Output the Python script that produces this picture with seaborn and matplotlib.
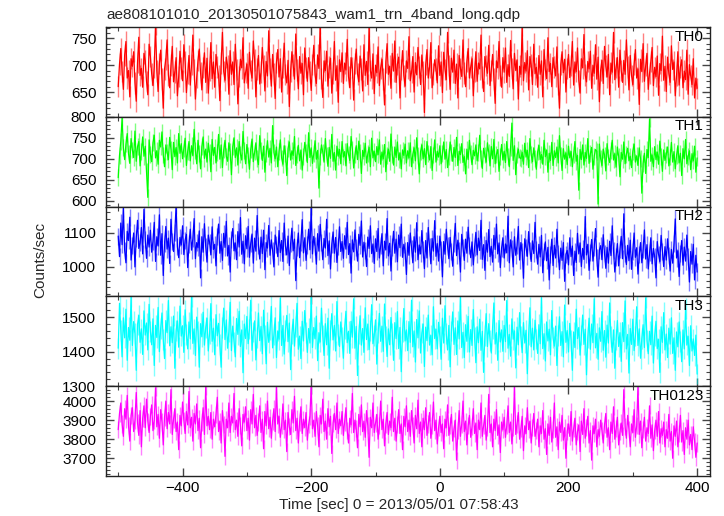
import numpy as np
import pandas as pd
import matplotlib
matplotlib.use("Agg")
import matplotlib.pyplot as plt
import seaborn as sns
from matplotlib.ticker import MultipleLocator, FixedLocator, FuncFormatter

# ---------------- data (2-s bins) ----------------
time = np.arange(-500, 401, 2)

th0 = [660, 702, 731, 688, 655, 719, 744, 676, 690, 641, 712, 698, 725, 667, 633, 705, 752, 681, 694, 659, 722, 708, 670, 645, 739,
       716, 684, 662, 697, 776, 689, 651, 703, 728, 674, 620, 693, 711, 747, 682, 658, 700, 735, 669, 687, 714, 643, 679, 726, 695,
       671, 738, 706, 649, 685, 718, 663, 701, 756, 692, 637, 677, 709, 730, 686, 654, 696, 723, 668, 713, 648, 690, 742, 675, 706,
       659, 720, 697, 681, 634, 704, 761, 688, 672, 715, 699, 646, 727, 683, 706, 664, 739, 692, 628, 679, 711, 695, 751, 667, 686,
       702, 657, 724, 690, 676, 745, 710, 641, 693, 718, 665, 687, 733, 699, 652, 707, 680, 764, 694, 661, 720, 684, 638, 705, 729,
       678, 712, 650, 696, 741, 683, 667, 709, 623, 689, 725, 700, 674, 758, 691, 656, 716, 685, 703, 645, 732, 696, 670, 714, 687,
       653, 701, 737, 682, 666, 719, 694, 778, 675, 640, 708, 690, 726, 661, 697, 713, 648, 685, 744, 672, 699, 631, 710, 688, 723,
       666, 704, 691, 748, 679, 658, 714, 696, 635, 703, 730, 684, 669, 717, 693, 652, 738, 681, 707, 664, 772, 690, 676, 721, 647,
       700, 686, 734, 662, 695, 711, 674, 626, 706, 740, 683, 698, 657, 722, 689, 745, 668, 702, 715, 639, 692, 727, 680, 661, 708,
       694, 753, 671, 687, 716, 650, 705, 682, 733, 697, 664, 719, 688, 612, 701, 729, 676, 696, 742, 658, 684, 710, 693, 667, 736,
       681, 706, 649, 724, 692, 673, 761, 699, 655, 713, 687, 728, 666, 702, 639, 718, 694, 679, 747, 685, 660, 707, 731, 676, 697,
       712, 643, 688, 725, 670, 704, 693, 756, 678, 651, 716, 699, 685, 737, 662, 690, 720, 674, 629, 708, 695, 744, 681, 659, 714,
       687, 732, 668, 701, 679, 746, 694, 656, 722, 690, 710, 637, 698, 683, 775, 671, 705, 689, 727, 654, 716, 700, 664, 739, 684,
       696, 659, 718, 683, 708, 641, 729, 692, 675, 751, 688, 703, 660, 714, 697, 680, 734, 665, 620, 701, 725, 686, 711, 650, 694,
       720, 677, 699, 744, 663, 706, 688, 732, 671, 648, 712, 695, 757, 682, 669, 707, 693, 726, 657, 700, 685, 738, 674, 715, 632,
       691, 709, 666, 735, 698, 678, 720, 645, 704, 687, 761, 673, 696, 714, 659, 728, 690, 668, 709, 683, 747, 697, 654, 718, 681,
       664, 702, 729, 676, 693, 627, 711, 688, 740, 670, 699, 722, 655, 685, 707, 733, 662, 696, 679, 717, 644, 703, 690, 754, 672,
       698, 651, 715, 684, 668, 736, 692, 706, 643, 681, 725, 663, 697, 710, 658, 689, 673, 728, 646, 701, 680, 664, 712, 639, 676,
       657]

th1 = [655, 708, 742, 797, 726, 698, 735, 760, 712, 689, 748, 721, 703, 766, 694, 729, 741, 683, 717, 752, 706, 730, 671, 608, 745,
       711, 693, 738, 756, 702, 719, 687, 744, 728, 764, 709, 681, 733, 716, 698, 751, 722, 674, 739, 705, 727, 690, 760, 713, 736,
       700, 725, 749, 684, 718, 741, 695, 731, 707, 770, 720, 688, 744, 712, 676, 729, 752, 701, 723, 692, 737, 714, 669, 746, 708,
       727, 690, 715, 758, 699, 733, 679, 721, 744, 706, 694, 738, 717, 662, 729, 750, 703, 726, 685, 741, 711, 697, 765, 720, 688,
       734, 709, 675, 722, 747, 693, 716, 738, 701, 686, 755, 719, 696, 730, 668, 712, 743, 704, 725, 690, 779, 715, 700, 728, 681,
       718, 745, 702, 687, 731, 713, 660, 724, 740, 697, 719, 708, 753, 684, 711, 732, 695, 721, 673, 706, 739, 714, 691, 762, 703,
       726, 689, 712, 743, 699, 720, 630, 705, 733, 716, 692, 748, 709, 682, 727, 701, 758, 694, 715, 673, 730, 706, 722, 688, 741,
       704, 717, 683, 736, 711, 696, 753, 723, 678, 709, 731, 698, 742, 714, 665, 720, 705, 737, 690, 712, 727, 681, 749, 702, 718,
       693, 729, 710, 745, 687, 716, 700, 734, 669, 707, 723, 694, 759, 711, 685, 728, 703, 740, 697, 714, 676, 721, 708, 735, 690,
       719, 702, 738, 681, 711, 726, 695, 750, 708, 664, 717, 733, 700, 724, 686, 741, 713, 697, 729, 672, 709, 745, 692, 718, 704,
       731, 688, 712, 740, 699, 722, 679, 706, 740, 715, 694, 727, 703, 751, 684, 718, 710, 736, 691, 705, 664, 723, 698, 744, 712,
       686, 720, 707, 733, 695, 714, 756, 701, 677, 725, 709, 692, 738, 716, 683, 729, 700, 746, 688, 711, 722, 670, 706, 734, 697,
       718, 691, 741, 705, 681, 727, 785, 696, 731, 662, 709, 723, 703, 700, 715, 687, 737, 704, 720, 679, 748, 710, 693, 726, 701,
       675, 716, 732, 698, 710, 687, 744, 705, 721, 668, 713, 696, 739, 684, 719, 703, 728, 690, 755, 707, 672, 724, 699, 714, 686,
       730, 702, 717, 681, 711, 741, 694, 708, 625, 722, 698, 733, 685, 715, 701, 748, 689, 712, 727, 675, 706, 722, 718, 592, 735,
       700, 684, 723, 709, 671, 736, 704, 691, 719, 744, 697, 712, 680, 728, 706, 657, 715, 699, 740, 688, 711, 725, 695, 706, 679,
       718, 735, 692, 707, 684, 726, 700, 618, 689, 713, 665, 722, 703, 795, 694, 709, 681, 729, 698, 716, 687, 742, 705, 670, 721,
       696, 711, 728, 683, 704, 739, 692, 717, 676, 708, 731, 690, 713, 660, 724, 700, 746, 688, 706, 719, 674, 712, 695, 730, 668,
       702]

th2 = [1090, 1030, 1128, 1065, 1172, 1048, 1012, 1104, 1077, 1145, 1020, 1062, 1099, 1000, 1083, 1136, 1054, 1070, 1115, 1038, 1168, 1081, 1025, 1093, 1058,
       1107, 1043, 1075, 1130, 1016, 1088, 1061, 1152, 1034, 1097, 975, 1069, 1118, 1052, 1084, 1010, 1139, 1073, 1045, 1101, 1180, 1059, 1027, 1086, 1064,
       1120, 1036, 1078, 1095, 998, 1067, 1110, 1049, 1082, 1141, 1024, 1071, 1056, 1105, 968, 1088, 1043, 1126, 1060, 1014, 1093, 1072, 1035, 1117, 1051,
       1066, 1003, 1089, 1125, 1040, 1074, 1019, 1098, 1057, 1133, 1032, 1063, 985, 1080, 1112, 1047, 1070, 1021, 1103, 1058, 1144, 1037, 1075, 1009, 1091,
       1053, 1118, 1028, 1069, 1096, 1011, 1084, 1046, 1150, 1062, 1023, 1087, 1039, 1107, 992, 1071, 1055, 1121, 1034, 1079, 1048, 1000, 1093, 1065, 1030,
       1106, 1042, 1077, 1016, 1128, 1060, 1035, 1090, 1004, 1068, 1113, 1047, 1081, 960, 1056, 1099, 1027, 1072, 1138, 1041, 1085, 1019, 1064, 1110, 1050,
       1172, 1038, 1089, 1061, 1008, 1097, 1046, 1124, 1070, 1021, 1083, 1055, 1139, 1033, 1076, 994, 1066, 1102, 1040, 1086, 1013, 1059, 1117, 1045, 1074,
       1025, 1091, 1052, 1130, 1036, 1068, 982, 1079, 1044, 1108, 1057, 1017, 1095, 1063, 1134, 1029, 1072, 1048, 1001, 1087, 1054, 1120, 1039, 1067, 1010,
       1082, 1045, 1112, 1026, 1063, 1097, 1003, 1075, 1050, 1141, 1032, 1069, 988, 1058, 1104, 1040, 1081, 1015, 1093, 1056, 1125, 1028, 1066, 1047, 978,
       1071, 1034, 1099, 1055, 1012, 1088, 1043, 1129, 1021, 1064, 1038, 1106, 1050, 995, 1077, 1026, 1115, 1058, 1009, 1083, 1046, 1135, 1031, 1068, 1017,
       1090, 1052, 971, 1074, 1037, 1110, 1061, 1024, 1086, 1045, 1002, 1069, 1127, 1033, 1078, 1049, 985, 1095, 1056, 1019, 1081, 1040, 1116, 1062, 1027,
       1073, 1006, 1058, 1101, 1035, 1084, 1048, 1136, 1022, 1065, 990, 1077, 1043, 1109, 1030, 1060, 1014, 1092, 1051, 1125, 1038, 1070, 998, 1055, 1085,
       1026, 1067, 1041, 1148, 1012, 1079, 1053, 1000, 1088, 1034, 1062, 1118, 1020, 1071, 1045, 967, 1082, 1057, 1031, 1103, 1049, 1016, 1076, 1039, 1130,
       1050, 1008, 1066, 1029, 1092, 983, 1044, 1073, 1018, 1057, 962, 1035, 1081, 1004, 1063, 1026, 1110, 1040, 992, 1055, 1019, 1071, 958, 1037, 1048,
       1006, 1085, 1030, 1061, 975, 1046, 1013, 1098, 1038, 1070, 1001, 1054, 1022, 1147, 1035, 1066, 990, 1043, 1080, 1017, 1058, 1112, 1027, 970, 1049,
       1062, 1021, 1094, 1040, 996, 1057, 1011, 1075, 1033, 1120, 1047, 985, 1029, 1068, 1003, 1052, 1089, 1024, 1155, 1039, 1007, 1063, 1018, 1078, 993,
       1044, 1099, 1028, 1056, 979, 1036, 1071, 1012, 1050, 1108, 1023, 1065, 994, 1041, 1085, 1009, 1054, 1030, 968, 1074, 1037, 1016, 1092, 1045, 1001,
       1059, 1020, 1082, 1034, 988, 1051, 1011, 1068, 1140, 1026, 1047, 972, 1039, 1077, 1005, 1058, 1017, 1093, 1030, 956, 1045, 1008, 1066, 962, 1034,
       985]

th3 = [1410, 1540, 1462, 1385, 1498, 1440, 1523, 1375, 1470, 1433, 1560, 1418, 1487, 1452, 1346, 1479, 1505, 1427, 1466, 1392, 1518, 1448, 1483, 1405, 1537,
       1459, 1420, 1495, 1360, 1476, 1441, 1528, 1400, 1468, 1512, 1436, 1380, 1490, 1455, 1548, 1417, 1472, 1426, 1503, 1352, 1461, 1489, 1413, 1532, 1445,
       1475, 1398, 1521, 1450, 1408, 1486, 1437, 1560, 1424, 1466, 1389, 1500, 1458, 1355, 1481, 1443, 1514, 1419, 1470, 1497, 1402, 1453, 1539, 1430, 1468,
       1391, 1507, 1446, 1482, 1421, 1355, 1469, 1526, 1435, 1492, 1410, 1458, 1543, 1403, 1474, 1428, 1385, 1496, 1450, 1517, 1415, 1463, 1339, 1480, 1438,
       1502, 1423, 1466, 1549, 1404, 1457, 1489, 1376, 1441, 1512, 1432, 1473, 1394, 1520, 1448, 1365, 1485, 1427, 1464, 1531, 1411, 1449, 1498, 1383, 1460,
       1436, 1555, 1418, 1476, 1393, 1462, 1505, 1429, 1483, 1348, 1451, 1494, 1416, 1472, 1540, 1407, 1445, 1380, 1488, 1431, 1519, 1456, 1398, 1467, 1425,
       1560, 1412, 1470, 1437, 1503, 1374, 1455, 1428, 1526, 1446, 1389, 1481, 1420, 1497, 1352, 1463, 1510, 1434, 1476, 1402, 1545, 1449, 1415, 1486, 1440,
       1381, 1468, 1517, 1426, 1459, 1395, 1488, 1442, 1553, 1410, 1473, 1331, 1451, 1504, 1419, 1467, 1398, 1527, 1435, 1480, 1406, 1461, 1536, 1423, 1447,
       1492, 1364, 1455, 1511, 1430, 1474, 1401, 1538, 1445, 1386, 1466, 1420, 1499, 1453, 1375, 1484, 1438, 1516, 1409, 1470, 1342, 1457, 1525, 1431, 1463,
       1403, 1487, 1427, 1549, 1414, 1460, 1370, 1493, 1440, 1518, 1396, 1454, 1480, 1357, 1471, 1432, 1506, 1419, 1448, 1391, 1530, 1438, 1465, 1408, 1485,
       1444, 1378, 1497, 1425, 1533, 1452, 1405, 1476, 1356, 1460, 1515, 1421, 1469, 1392, 1489, 1437, 1558, 1412, 1456, 1383, 1478, 1430, 1502, 1399, 1464,
       1418, 1522, 1441, 1368, 1472, 1426, 1494, 1404, 1459, 1340, 1447, 1510, 1415, 1481, 1433, 1396, 1466, 1541, 1422, 1455, 1375, 1490, 1428, 1463, 1401,
       1476, 1429, 1548, 1410, 1450, 1387, 1495, 1436, 1460, 1353, 1471, 1420, 1513, 1443, 1397, 1484, 1425, 1462, 1336, 1449, 1527, 1414, 1468, 1405, 1491,
       1437, 1395, 1478, 1423, 1556, 1409, 1452, 1373, 1486, 1431, 1465, 1391, 1519, 1440, 1416, 1474, 1360, 1446, 1501, 1418, 1458, 1385, 1535, 1427, 1461,
       1399, 1482, 1433, 1346, 1457, 1412, 1523, 1438, 1470, 1390, 1448, 1506, 1421, 1465, 1333, 1442, 1497, 1407, 1480, 1426, 1553, 1411, 1453, 1378, 1469,
       1430, 1516, 1404, 1461, 1384, 1477, 1425, 1541, 1443, 1398, 1463, 1352, 1435, 1490, 1415, 1455, 1372, 1484, 1429, 1547, 1408, 1450, 1338, 1467, 1421,
       1494, 1403, 1445, 1530, 1418, 1466, 1381, 1439, 1478, 1412, 1556, 1432, 1394, 1459, 1420, 1503, 1367, 1447, 1488, 1409, 1436, 1340, 1472, 1427, 1513,
       1405, 1451, 1383, 1468, 1422, 1498, 1395, 1440, 1346, 1457, 1414, 1486, 1430, 1371, 1463, 1408, 1526, 1419, 1444, 1360, 1475, 1402, 1437, 1389, 1448,
       1335]

th0123 = [3850, 3935, 3990, 3880, 3815, 3960, 3905, 4030, 3870, 3790, 3925, 3965, 3840, 3900, 4045, 3885, 3820, 3950, 3760, 3910, 3975, 3860, 4010, 3895, 3835,
          3920, 3980, 3845, 3900, 4070, 3865, 3930, 3805, 3955, 3890, 3770, 3915, 4000, 3855, 3940, 3880, 4060, 3825, 3905, 3960, 3840, 3890, 3745, 3925, 3870,
          3995, 3900, 3830, 3945, 3875, 4050, 3860, 3915, 3790, 3935, 3880, 3985, 3845, 3910, 3755, 3890, 3965, 3825, 4075, 3870, 3920, 3850, 3940, 3800, 3905,
          3865, 3930, 4020, 3840, 3895, 3780, 3950, 3875, 3710, 3905, 3860, 3990, 3835, 3920, 3885, 4040, 3850, 3900, 3815, 3960, 3870, 3765, 3930, 3890, 3970,
          3845, 3910, 3795, 3955, 3880, 4035, 3860, 3925, 3820, 3890, 3975, 3835, 3905, 3750, 3945, 3870, 4000, 3855, 3915, 3805, 3895, 3960, 3840, 4078, 3880,
          3920, 3810, 3870, 3985, 3850, 3900, 3735, 3940, 3865, 3825, 3955, 3885, 4025, 3845, 3910, 3780, 3890, 3970, 3830, 3905, 3860, 3940, 3795, 3875, 3920,
          4078, 3855, 3900, 3815, 3945, 3870, 3760, 3925, 3880, 4010, 3840, 3895, 3800, 3960, 3865, 3920, 3725, 3885, 3935, 3850, 3990, 3830, 3905, 3870, 3945,
          3820, 3890, 3965, 3845, 3780, 3910, 3875, 4040, 3835, 3900, 3855, 3755, 3930, 3865, 3980, 3840, 3895, 3810, 3950, 3870, 3705, 3915, 3860, 3990, 3835,
          3885, 3930, 3800, 3870, 4000, 3850, 3905, 3765, 3880, 3940, 3825, 3895, 3860, 4020, 3840, 3910, 3790, 3875, 3955, 3830, 3880, 3745, 3920, 3865, 3975,
          3840, 3900, 3815, 3950, 3870, 3780, 3925, 3855, 4005, 3830, 3890, 3760, 3910, 3850, 3965, 3820, 3880, 3940, 3805, 3870, 3995, 3845, 3900, 3775, 3860,
          3920, 3835, 3880, 3750, 3905, 3860, 3980, 3820, 3870, 3930, 3790, 3855, 3900, 3690, 3845, 3950, 3815, 3880, 4000, 3840, 3895, 3770, 3870, 3925, 3810,
          3865, 3960, 3830, 3885, 3745, 3900, 3850, 3990, 3815, 3870, 3925, 3795, 3860, 4035, 3835, 3880, 3760, 3905, 3845, 3955, 3820, 3875, 3730, 3890, 3850,
          3915, 3810, 3870, 3975, 3835, 3890, 3775, 3860, 4075, 3825, 3880, 3940, 3800, 3855, 3920, 3740, 3870, 3830, 3965, 3850, 3895, 3780, 3860, 3935, 3815,
          3845, 3905, 3760, 3870, 3830, 3950, 3800, 3855, 3720, 3880, 3820, 3915, 3785, 3850, 3990, 3810, 3865, 3745, 3890, 3835, 3925, 3795, 3860, 3700, 3840,
          3880, 3815, 3945, 3790, 3855, 3910, 3770, 3840, 3875, 3735, 3895, 3825, 3960, 3805, 3860, 3920, 3780, 3845, 3690, 3870, 3830, 3905, 3760, 3850, 3815,
          3900, 3845, 3780, 3875, 3935, 3810, 3860, 3745, 3890, 3830, 3970, 3800, 3855, 3915, 3770, 3840, 3885, 3820, 4060, 3865, 3805, 3925, 3850, 3760, 3880,
          3835, 3955, 3810, 3870, 4078, 3825, 3895, 3755, 3850, 3915, 3790, 3860, 3830, 3975, 3805, 3875, 3740, 3845, 3900, 3815, 3945, 3780, 3855, 3820, 3890,
          3760, 3850, 3805, 3930, 3790, 3840, 3700, 3870, 3815, 3895, 3760, 3830, 3925, 3785, 3845, 3720, 3860, 3800, 3900, 3770, 3825, 3745, 3865, 3790, 3705,
          3780]

band_names = ["TH0", "TH1", "TH2", "TH3", "TH0123"]
band_errors = [20, 20, 25, 30, 45]
y_major = [[650, 700, 750], [600, 650, 700, 750, 800], [1000, 1100],
           [1300, 1400, 1500], [3700, 3800, 3900, 4000]]
title = "ae808101010_20130501075843_wam1_trn_4band_long.qdp"
xlabel = "Time [sec] 0 = 2013/05/01 07:58:43"
ylabel = "Counts/sec"

# ---------------- style ----------------
series = [th0, th1, th2, th3, th0123]
colors = ["#ff0000", "#00ff00", "#0000ff", "#00ffff", "#ff00ff"]
ylims = [(604, 771), (586, 800), (914, 1176), (1300, 1560), (3607, 4078)]
y_minor = [10, 10, 20, 20, 20]

sns.set_style("ticks")
plt.rcParams["font.family"] = ["Liberation Sans", "DejaVu Sans"]
plt.rcParams["font.size"] = 11

fig, axes = plt.subplots(5, 1, figsize=(7.24, 5.16), dpi=100, sharex=True)
fig.subplots_adjust(left=106 / 724, right=710 / 724, top=1 - 27 / 516,
                    bottom=1 - 476 / 516, hspace=0)

for i, ax in enumerate(axes):
    df = pd.DataFrame({"time": time, "rate": series[i]})
    lo = df["rate"].to_numpy() - band_errors[i]
    hi = df["rate"].to_numpy() + band_errors[i]
    ax.vlines(df["time"].to_numpy(), lo, hi, colors=colors[i], alpha=0.5,
              linewidth=1.0, zorder=1)
    sns.lineplot(data=df, x="time", y="rate", ax=ax, color=colors[i],
                 linewidth=0.9, estimator=None, sort=False, zorder=2)
    ax.set_xlim(-519, 420)
    ax.set_ylim(*ylims[i])
    ax.yaxis.set_major_locator(FixedLocator(y_major[i]))
    ax.yaxis.set_minor_locator(MultipleLocator(y_minor[i]))
    ax.xaxis.set_major_locator(MultipleLocator(200))
    ax.xaxis.set_minor_locator(MultipleLocator(100))
    ax.set_xlabel("")
    ax.set_ylabel("")
    ax.tick_params(which="both", direction="in", top=True, right=True,
                   color="#444444", labelsize=11, labelcolor="black")
    ax.tick_params(which="major", length=6, width=1)
    ax.tick_params(which="minor", length=3, width=0.8)
    ax.tick_params(axis="y", pad=7)
    ax.tick_params(axis="x", labelbottom=(i == 4), pad=3.5)
    for sp in ax.spines.values():
        sp.set_color("#222222")
        sp.set_linewidth(1.0)
    ax.text(0.99, 0.97, band_names[i], transform=ax.transAxes, ha="right",
            va="top", fontsize=11, color="black", zorder=5)

axes[-1].xaxis.set_major_formatter(FuncFormatter(lambda v, p: f"{int(v)}".replace("-", "\u2212")))

fig.text(106 / 724, 1 - 15 / 516, title, ha="left", va="center", fontsize=11)
fig.text(399 / 724, 1 - 505 / 516, xlabel, ha="center", va="center", fontsize=11)
fig.text(40 / 724, 1 - 260 / 516, ylabel, ha="center", va="center",
         rotation=90, fontsize=11)

fig.savefig("out.png", dpi=100)
